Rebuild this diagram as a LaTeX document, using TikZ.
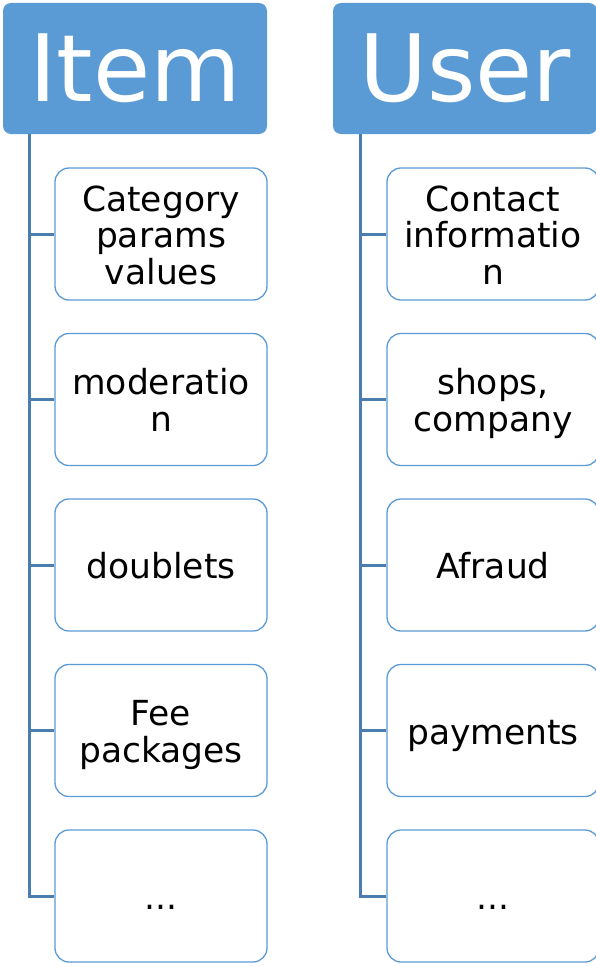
\documentclass[tikz,border=0pt]{standalone}
\usepackage{fontspec}
\setmainfont{DejaVu Sans}
\definecolor{hdrblue}{HTML}{5B9BD5}
\definecolor{childblue}{HTML}{5B9BD5}
\definecolor{trunkblue}{HTML}{4A7EB0}
\newcommand{\tl}[1]{\rule[-4.75pt]{0pt}{36.5pt}\smash{#1}}
\begin{document}
\begin{tikzpicture}[x=1pt,y=-1pt,
  hdr/.style={fill=hdrblue, draw=none, rounded corners=8pt, minimum width=264pt, minimum height=131pt, text=white, font=\fontsize{93}{106}\selectfont, inner sep=0pt},
  child/.style={draw=childblue, line width=1.3pt, fill=white, rounded corners=14pt, minimum width=212pt, minimum height=132pt, align=center, font=\fontsize{34.5}{36.5}\selectfont, inner sep=0pt},
  trunk/.style={draw=trunkblue, line width=3pt}]
\useasboundingbox (0,0) rectangle (596,966);
% headers
\node[hdr] (hItem) at (135,68.5) {\raisebox{-8pt}{Item}};
\node[hdr] (hUser) at (465,68.5) {\raisebox{-8pt}{User}};
% left column
\node[child] (a1) at (161,234) {\tl{Category}\\\tl{params}\\\tl{values}};
\node[child] (a2) at (161,399.5) {\tl{moderatio}\\\tl{n}};
\node[child] (a3) at (161,565) {\tl{doublets}};
\node[child] (a4) at (161,730.5) {\tl{Fee}\\\tl{packages}};
\node[child] (a5) at (161,896) {\tl{...}};
% right column
\node[child] (b1) at (493,234) {\tl{Contact}\\\tl{informatio}\\\tl{n}};
\node[child] (b2) at (493,399.5) {\tl{shops,}\\\tl{company}};
\node[child] (b3) at (493,565) {\tl{Afraud}};
\node[child] (b4) at (493,730.5) {\tl{payments}};
\node[child] (b5) at (493,896) {\tl{...}};
% trunks
\coordinate (tA) at (29,134);
\coordinate (tB) at (360,134);
\draw[trunk] (tA) |- (a5.west);
\foreach \n in {a1,a2,a3,a4} \draw[trunk] (tA |- \n.west) -- (\n.west);
\draw[trunk] (tB) |- (b5.west);
\foreach \n in {b1,b2,b3,b4} \draw[trunk] (tB |- \n.west) -- (\n.west);
\end{tikzpicture}
\end{document}
